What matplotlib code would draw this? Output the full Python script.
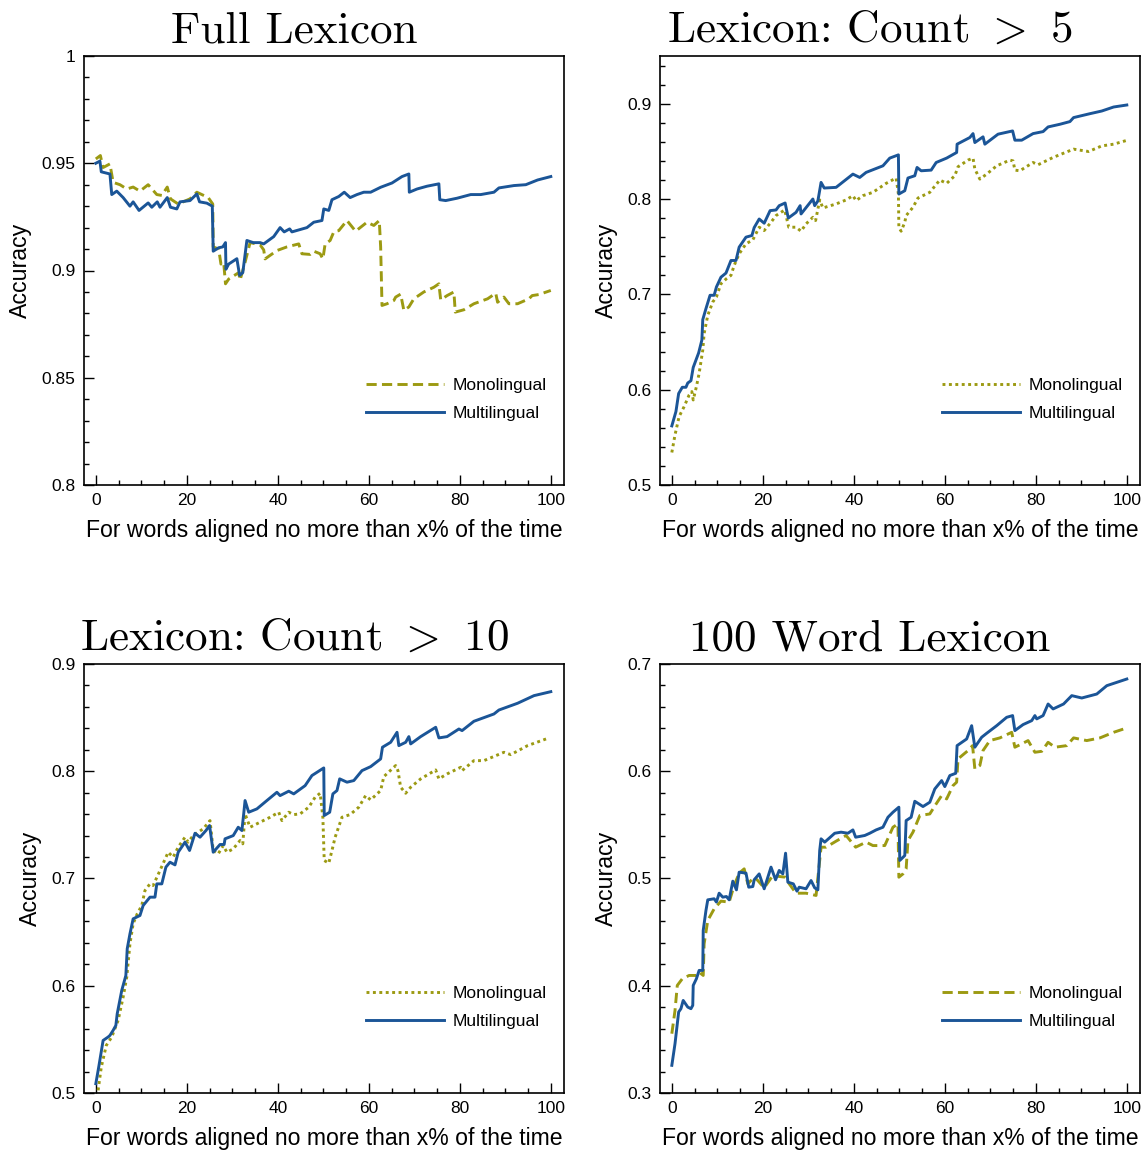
import matplotlib
matplotlib.use('Agg')
import matplotlib.pyplot as plt
from matplotlib.ticker import MultipleLocator, FormatStrFormatter

plt.rcParams['font.family'] = 'Liberation Sans'
plt.rcParams['mathtext.fontset'] = 'cm'

OLIVE = '#9c9a12'
BLUE = '#1b5597'

######################################################
# data (x = % aligned, y = accuracy)
######################################################
# Full Lexicon
full_multi_x = [0, 0.9, 1.2, 3.1, 3.5, 4.6, 6, 7.5, 8.2, 9.5, 11.5, 12.3, 13.5, 14.1, 15.7, 16.4, 17.8, 18.5,
                20.7, 22.2, 22.8, 24.4, 25.6, 25.8, 27, 27.9, 28.5, 28.6, 29.2, 31, 31.6, 32.3, 33.2, 34.6,
                36.1, 36.9, 39.1, 40.5, 41.4, 42.6, 43.1, 46.4, 47.9, 49.7, 50.1, 51.2, 51.9, 53.4, 54.6,
                55.9, 57.4, 58.9, 60.4, 62.6, 65.1, 67.3, 68.8, 68.9, 70.6, 72.8, 75.4, 75.6, 76.9, 79.4,
                82.4, 84.6, 87.5, 88.6, 91.9, 94.5, 97.1, 100]
full_multi_y = [0.950, 0.951, 0.946, 0.945, 0.9354, 0.937, 0.934, 0.930, 0.932, 0.928, 0.9315, 0.9295, 0.932,
                0.9295, 0.934, 0.9295, 0.9287, 0.932, 0.9326, 0.9357, 0.932, 0.9314, 0.930, 0.909, 0.9106,
                0.911, 0.913, 0.9006, 0.903, 0.9055, 0.8977, 0.899, 0.914, 0.913, 0.913, 0.9124, 0.9158,
                0.920, 0.918, 0.9194, 0.918, 0.920, 0.9225, 0.9233, 0.9287, 0.928, 0.933, 0.9345, 0.9365,
                0.934, 0.9354, 0.9365, 0.9365, 0.9388, 0.9408, 0.9438, 0.945, 0.9365, 0.938, 0.9393, 0.9404,
                0.933, 0.9326, 0.9337, 0.9354, 0.9354, 0.9365, 0.9385, 0.9396, 0.940, 0.9422, 0.9438]
full_mono_x = [0, 1, 1.6, 3.1, 3.8, 5.3, 6.8, 8.2, 9.7, 11.5, 13.4, 14.5, 15.7, 16.4, 18.1, 20.7, 22.2, 24.7,
               25.7, 25.8, 27, 27.5, 28.1, 28.5, 29.2, 31.4, 31.7, 32.8, 33.9, 36.1, 36.9, 37.2, 39.8, 42,
               44.6, 45.3, 47.1, 47.9, 49.3, 49.9, 50.4, 51.5, 52.3, 53.4, 55.2, 57.1, 58.1, 59.6, 61.1,
               62.3, 62.6, 62.9, 64, 65.5, 65.9, 67, 67.7, 68.8, 69.9, 72.1, 74.3, 75.4, 75.8, 77.2, 78.7,
               79, 80.9, 83.1, 86.1, 87.9, 88.3, 89.7, 90.8, 92.7, 95.2, 95.9, 97.4, 100]
full_mono_y = [0.952, 0.9536, 0.948, 0.9497, 0.9411, 0.940, 0.938, 0.9389, 0.937, 0.940, 0.9354, 0.935,
               0.9389, 0.9334, 0.931, 0.9334, 0.9365, 0.934, 0.931, 0.911, 0.910, 0.903, 0.9038, 0.8938,
               0.896, 0.899, 0.8955, 0.9038, 0.913, 0.912, 0.9096, 0.9054, 0.9093, 0.911, 0.9124, 0.9078,
               0.9075, 0.909, 0.9078, 0.9054, 0.9124, 0.914, 0.918, 0.9186, 0.9233, 0.9183, 0.920, 0.9225,
               0.921, 0.9233, 0.911, 0.8837, 0.8845, 0.886, 0.8876, 0.889, 0.8814, 0.883, 0.8868, 0.890,
               0.8922, 0.8938, 0.8863, 0.8883, 0.890, 0.8806, 0.8817, 0.8845, 0.8868, 0.8894, 0.8852,
               0.8876, 0.8845, 0.8845, 0.8868, 0.8883, 0.8888, 0.8907]

# Lexicon: Count > 5
c5_multi_x = [0, 0.9, 1.5, 2.3, 3.1, 3.5, 4.2, 4.7, 5.9, 6.6, 6.8, 7.5, 8.4, 9.3, 9.8, 10.8, 11.9, 13, 14.1,
              14.8, 16.3, 17.6, 18.1, 19.2, 20.3, 21.6, 22.9, 23.6, 24.9, 25.6, 27.3, 28.2, 28.4, 31, 31.4,
              32.1, 32.8, 33.5, 36.1, 39.8, 41.3, 42.7, 46.4, 47.9, 49.8, 49.9, 51.2, 51.9, 53.4, 53.9,
              54.8, 57, 58.1, 60.4, 62.6, 62.7, 65.5, 66.2, 66.6, 68.4, 68.8, 71.7, 74.9, 75.4, 76.9,
              79.4, 81.6, 82.7, 85.3, 87.5, 88.3, 91.9, 94.5, 97.1, 100]
c5_multi_y = [0.562, 0.577, 0.596, 0.6025, 0.6025, 0.607, 0.6094, 0.6233, 0.6387, 0.652, 0.6735, 0.685,
              0.699, 0.699, 0.7077, 0.718, 0.7223, 0.7355, 0.7355, 0.7495, 0.760, 0.7617, 0.770, 0.779,
              0.7746, 0.7878, 0.7885, 0.793, 0.7958, 0.780, 0.786, 0.793, 0.7843, 0.800, 0.793, 0.798,
              0.8174, 0.8115, 0.8122, 0.8261, 0.8226, 0.8279, 0.8348, 0.8429, 0.8463, 0.8052, 0.8087,
              0.822, 0.8244, 0.8331, 0.8296, 0.8303, 0.8383, 0.8429, 0.8488, 0.8575, 0.8645, 0.8686,
              0.8592, 0.8652, 0.8575, 0.868, 0.8714, 0.8617, 0.8617, 0.8686, 0.8707, 0.8756, 0.8784,
              0.8812, 0.8854, 0.8895, 0.8923, 0.8965, 0.8986]
c5_mono_x = [0, 0.7, 1.6, 2.7, 3.8, 4.4, 4.7, 5.4, 6, 6.8, 7.1, 7.9, 9, 9.8, 10.8, 12, 13, 13.7, 14.8, 16.3,
             17.8, 19.2, 20.3, 21.8, 22.9, 24.8, 25.7, 27.3, 28.4, 29.5, 31, 31.6, 32.5, 33.2, 36.1, 38.3,
             39.8, 40.5, 42, 44.2, 47.1, 49.3, 49.8, 49.9, 50.4, 51.2, 51.5, 53, 54.1, 56.7, 58.9, 60.4,
             62.2, 62.9, 65.1, 66.2, 66.6, 67.7, 69.2, 71.4, 74.3, 75, 75.4, 76.5, 79.4, 80.5, 83.8, 88.3,
             91.6, 94.5, 97.1, 100]
c5_mono_y = [0.5341, 0.5526, 0.5718, 0.5822, 0.5944, 0.598, 0.5892, 0.6031, 0.6171, 0.6415, 0.6589, 0.678,
             0.692, 0.6972, 0.7111, 0.7164, 0.7199, 0.7303, 0.7425, 0.753, 0.7571, 0.7704, 0.7669, 0.7756,
             0.7826, 0.7885, 0.7704, 0.7704, 0.7662, 0.7739, 0.7808, 0.7774, 0.799, 0.7906, 0.7948, 0.799,
             0.8035, 0.7983, 0.8035, 0.807, 0.8164, 0.822, 0.8052, 0.7704, 0.7662, 0.7756, 0.7826, 0.7913,
             0.801, 0.807, 0.8199, 0.8164, 0.8244, 0.8338, 0.8408, 0.8429, 0.8314, 0.8209, 0.8261, 0.8348,
             0.8408, 0.840, 0.8303, 0.8296, 0.8383, 0.8359, 0.8436, 0.8523, 0.8498, 0.8557, 0.8575, 0.8615]

# Lexicon: Count > 10
c10_multi_x = [0, 0.7, 1.6, 2.7, 3.1, 3.8, 4.4, 4.7, 5.7, 6.6, 6.9, 7.5, 8.2, 9.7, 10.4, 11.9, 13, 13.4,
               14.5, 15.4, 16.3, 17.4, 18.1, 19.6, 20.6, 21.8, 22.9, 24.2, 25, 25.8, 27.3, 28.2, 28.4, 30.2,
               31.3, 32.1, 32.5, 32.8, 33.6, 35.4, 37.6, 39.8, 40.5, 42.4, 43.5, 46, 47.5, 50.1, 50.2, 51.4,
               52.1, 53, 53.6, 55.2, 56.7, 58.5, 60.4, 62.6, 63, 64.8, 66.2, 66.6, 68.1, 68.8, 69.2, 71.4,
               74.7, 75.4, 77.2, 79.8, 80.5, 83.1, 87.5, 88.6, 92.7, 96.3, 100]
c10_multi_y = [0.5087, 0.5258, 0.549, 0.5522, 0.5537, 0.5584, 0.563, 0.5739, 0.5957, 0.6096, 0.6345, 0.6484,
               0.6624, 0.6655, 0.6748, 0.6826, 0.6826, 0.695, 0.695, 0.7106, 0.7152, 0.7127, 0.7245, 0.7339,
               0.7261, 0.7422, 0.7385, 0.7447, 0.7494, 0.7245, 0.7317, 0.7317, 0.737, 0.740, 0.7478, 0.7447,
               0.7602, 0.7727, 0.7618, 0.7649, 0.7727, 0.7804, 0.7773, 0.7814, 0.7789, 0.7866, 0.796, 0.8031,
               0.7587, 0.7618, 0.7789, 0.782, 0.7929, 0.7898, 0.7913, 0.8006, 0.8043, 0.8115, 0.8224, 0.827,
               0.8363, 0.8239, 0.827, 0.8323, 0.8255, 0.8323, 0.841, 0.8311, 0.8323, 0.8394, 0.8379, 0.8466,
               0.8534, 0.8571, 0.8634, 0.8705, 0.8742]
c10_mono_x = [0.5, 1.2, 2.3, 3.5, 4.2, 4.9, 6, 6.8, 7.5, 8.2, 9.1, 10.1, 10.8, 11.9, 12.6, 14.1, 15.9, 17,
              18.1, 19.6, 20.3, 21.4, 22.5, 23.6, 25.1, 25.8, 26.9, 28, 28.8, 30.2, 31.7, 32.3, 32.8, 33.9,
              36.1, 38.3, 40.2, 40.9, 42.4, 43.5, 44.9, 46.8, 48.2, 49.3, 49.9, 50.2, 51.2, 51.9, 52.6,
              54.1, 55.9, 57.8, 59.3, 60.4, 62.6, 63.3, 65.9, 66.4, 67, 68.1, 69.2, 71.4, 74.7, 75.4, 77.2,
              80.2, 80.5, 83.1, 85.3, 89.7, 91.2, 94.9, 99.6]
c10_mono_y = [0.5025, 0.5242, 0.5444, 0.5522, 0.560, 0.5677, 0.5894, 0.6081, 0.6391, 0.6578, 0.6671, 0.6748,
              0.6888, 0.695, 0.6935, 0.7075, 0.7245, 0.7199, 0.7292, 0.7385, 0.7339, 0.7401, 0.7432, 0.7463,
              0.754, 0.7261, 0.723, 0.7307, 0.7245, 0.7276, 0.7354, 0.7323, 0.7602, 0.7478, 0.7525, 0.7571,
              0.7618, 0.754, 0.7618, 0.7596, 0.7602, 0.7665, 0.7758, 0.7795, 0.7571, 0.7168, 0.7143, 0.7261,
              0.7385, 0.7571, 0.7596, 0.7665, 0.7773, 0.7733, 0.782, 0.795, 0.8053, 0.8006, 0.7851, 0.7795,
              0.7851, 0.7929, 0.8012, 0.7929, 0.7975, 0.8037, 0.8006, 0.8099, 0.8099, 0.8177, 0.8155,
              0.8239, 0.8311]

# 100 Word Lexicon
w100_multi_x = [0, 0.7, 1.5, 2, 2.5, 3.5, 4.2, 4.6, 4.7, 5.4, 6, 6.8, 6.9, 7.5, 7.9, 9.3, 9.8, 10.4, 11.2,
                12, 12.6, 13.4, 14.2, 14.8, 16.3, 16.9, 17.8, 18.1, 19.2, 20.3, 21.8, 22.8, 23.6, 24.4, 25,
                25.5, 26.7, 27.5, 28, 29.5, 30.6, 31.4, 32.1, 32.5, 32.8, 33.6, 35.8, 37.2, 38.7, 39.8,
                40.4, 42.4, 43.5, 44.9, 46.4, 47.5, 48.6, 49.9, 50.1, 51.2, 51.5, 52.6, 53.4, 55.2, 56.7,
                57.8, 59.3, 60, 61.1, 62.4, 62.7, 64.8, 65.9, 66.6, 68.1, 69.2, 71.4, 73.6, 74.9, 75.4,
                77.2, 79.1, 79.8, 80.2, 81.6, 82.7, 83.8, 86.1, 87.9, 90.1, 93.4, 95.6, 97.8, 100]
w100_multi_y = [0.3258, 0.346, 0.3755, 0.3786, 0.3863, 0.3801, 0.3786, 0.3817, 0.4003, 0.4065, 0.4143,
                0.4143, 0.4516, 0.4702, 0.4801, 0.4811, 0.478, 0.4863, 0.4826, 0.4832, 0.4801, 0.4975,
                0.4894, 0.5059, 0.505, 0.4919, 0.4925, 0.4988, 0.5043, 0.4904, 0.5106, 0.4988, 0.5075,
                0.5043, 0.5236, 0.4966, 0.495, 0.4882, 0.4919, 0.4904, 0.4981, 0.4913, 0.4894, 0.5261,
                0.537, 0.5339, 0.5422, 0.5432, 0.5422, 0.5453, 0.5385, 0.5401, 0.5422, 0.5453, 0.5478,
                0.5571, 0.5618, 0.5665, 0.5168, 0.5214, 0.554, 0.5571, 0.572, 0.5671, 0.5711, 0.5835,
                0.5913, 0.5857, 0.596, 0.5981, 0.6239, 0.6301, 0.6425, 0.6224, 0.6317, 0.6354, 0.6425,
                0.6503, 0.6519, 0.6379, 0.6435, 0.6472, 0.6519, 0.6488, 0.6519, 0.6627, 0.6581, 0.6627,
                0.6705, 0.6683, 0.672, 0.6798, 0.6829, 0.686]
w100_mono_x = [0, 0.7, 1.2, 2.3, 3.8, 5.3, 6, 6.9, 7.1, 7.9, 9.3, 10.8, 12.6, 13.7, 14.8, 15.9, 16.7, 18.1,
               18.9, 20.3, 22.2, 23.6, 25, 25.8, 27.3, 29.5, 31.7, 32.8, 33.9, 36.1, 38.3, 40.4, 42.7,
               44.2, 46.8, 48.6, 49.7, 49.9, 50.8, 51.5, 51.9, 53, 54.5, 56.7, 58.1, 59.3, 60.4, 61.8,
               62.6, 62.9, 65.1, 66.1, 66.6, 67.7, 68.4, 69.9, 72.1, 74.7, 75.4, 76.9, 78.3, 79.8, 81.3,
               82.7, 84.2, 86.8, 88.3, 91.2, 94.1, 97.1, 100]
w100_mono_y = [0.3553, 0.377, 0.4003, 0.4065, 0.4096, 0.4096, 0.4127, 0.4096, 0.4391, 0.4609, 0.4717,
               0.4789, 0.478, 0.4935, 0.505, 0.509, 0.495, 0.5012, 0.4981, 0.4913, 0.5028, 0.5019, 0.5012,
               0.495, 0.4863, 0.4863, 0.4842, 0.5292, 0.5292, 0.5348, 0.5401, 0.5292, 0.5339, 0.5307,
               0.5307, 0.5478, 0.5509, 0.5012, 0.5043, 0.509, 0.5354, 0.5432, 0.5587, 0.5602, 0.5696,
               0.5773, 0.5742, 0.5866, 0.5898, 0.6115, 0.6193, 0.6239, 0.6022, 0.6053, 0.6193, 0.6286,
               0.6311, 0.6363, 0.6224, 0.6255, 0.6286, 0.6177, 0.6186, 0.627, 0.6224, 0.6239, 0.6311,
               0.6286, 0.6311, 0.6363, 0.6404]

titles = ['Full Lexicon', r'Lexicon: Count $>$ 5', r'Lexicon: Count $>$ 10', '100 Word Lexicon']
ylims = [(0.8, 1.0), (0.5, 0.95), (0.5, 0.9), (0.3, 0.7)]
ymajor = [0.05, 0.1, 0.1, 0.1]
yminor = [0.01, 0.02, 0.02, 0.02]
mono_styles = [(0, (3.5, 1.8)), (0, (1, 1.2)), (0, (1, 1.2)), (0, (3.5, 1.8))]

panels = [(full_mono_x, full_mono_y, full_multi_x, full_multi_y),
          (c5_mono_x, c5_mono_y, c5_multi_x, c5_multi_y),
          (c10_mono_x, c10_mono_y, c10_multi_x, c10_multi_y),
          (w100_mono_x, w100_mono_y, w100_multi_x, w100_multi_y)]

fig = plt.figure(figsize=(11.43, 11.52), dpi=100)
W, H = 1143.0, 1152.0
rects = [(84, 56), (660, 56), (84, 664), (660, 664)]

for i, (mx, my, ux, uy) in enumerate(panels):
    left, top = rects[i]
    ax = fig.add_axes([left / W, 1 - (top + 429) / H, 480 / W, 429 / H])
    ax.plot(mx, my, color=OLIVE, lw=2.1, linestyle=mono_styles[i], label='Monolingual')
    ax.plot(ux, uy, color=BLUE, lw=2.1, label='Multilingual')

    ax.set_xlim(-2.6, 102.9)
    ax.set_ylim(*ylims[i])
    ax.xaxis.set_major_locator(MultipleLocator(20))
    ax.xaxis.set_minor_locator(MultipleLocator(5))
    ax.yaxis.set_major_locator(MultipleLocator(ymajor[i]))
    ax.yaxis.set_minor_locator(MultipleLocator(yminor[i]))
    ax.yaxis.set_major_formatter(FormatStrFormatter('%g'))
    ax.tick_params(which='both', direction='in', top=False, right=False, labelsize=12.5, width=1.0)
    ax.tick_params(which='major', length=7, pad=6)
    ax.tick_params(which='minor', length=3.5)
    for s in ax.spines.values():
        s.set_linewidth(1.2)

    ax.set_xlabel('For words aligned no more than x% of the time', fontsize=16.6, labelpad=8)
    ax.set_ylabel('Accuracy', fontsize=16.7, labelpad=7)
    ax.set_title(titles[i], fontsize=32.5, family='cmr10', x=0.4375, pad=10)

    ax.legend(loc='lower right', bbox_to_anchor=(0.965, 0.15), frameon=False, fontsize=12.5,
              handlelength=4.5, handletextpad=0.5, labelspacing=0.7, borderpad=0, borderaxespad=0)

plt.savefig('out.png', dpi=100)
